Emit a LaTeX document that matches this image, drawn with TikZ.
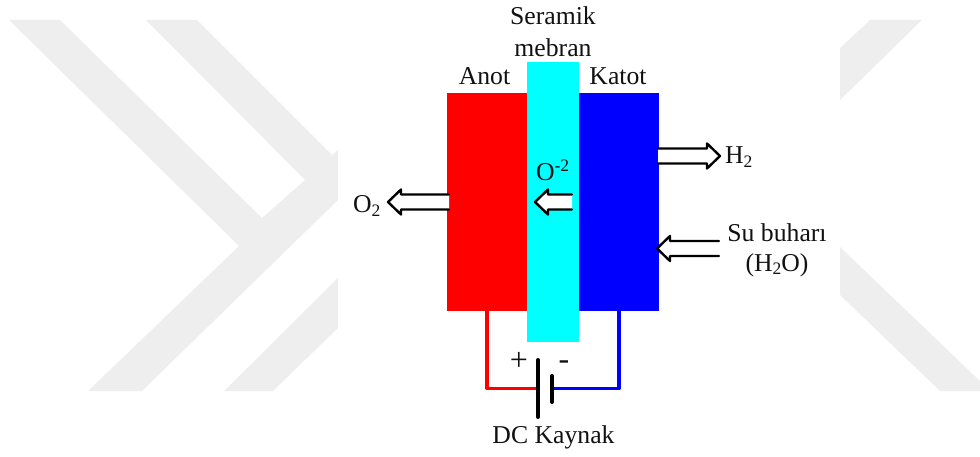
\documentclass[tikz,border=0pt]{standalone}
\usepackage{fontspec}
\setmainfont{Liberation Serif}
\usetikzlibrary{calc}
\definecolor{wm}{HTML}{EEEEEE}
\definecolor{ink}{HTML}{111111}
\definecolor{redplate}{HTML}{FF0000}
\definecolor{blueplate}{HTML}{0000FF}
\definecolor{cyanplate}{HTML}{00FFFF}
\newcommand{\lowtwo}{\raisebox{-3.5pt}{\fontsize{17.5}{17.5}\selectfont 2}}
% hollow arrow between two named coordinates; #3 = +1 points right, -1 points left
\newcommand{\holarrow}[3]{%
  \draw[hollow] ($(#1)+(0,-7.5)$) -- ($(#2)+({-13*#3},-7.5)$) -- ($(#2)+({-13*#3},-12.5)$)
    -- (#2) -- ($(#2)+({-13*#3},12.5)$) -- ($(#2)+({-13*#3},7.5)$) -- ($(#1)+(0,7.5)$);}
\tikzset{
  plate/.style={draw=none,inner sep=0pt,outer sep=0pt},
  lbl/.style={inner sep=0pt,outer sep=0pt,text=ink,font=\fontsize{25.7}{30}\selectfont},
  bigsign/.style={inner sep=0pt,outer sep=0pt,text=ink,font=\fontsize{32}{32}\selectfont},
  hollow/.style={line width=2.4pt,draw=black,fill=white,line join=round,line cap=round},
  wire/.style={line width=3.8pt,line join=round},
  batt/.style={line width=4pt,draw=black,line cap=round},
}
\begin{document}
\begin{tikzpicture}[x=1pt,y=-1pt]
\useasboundingbox (0,0) rectangle (980,457);
% watermark
\fill[wm] (9,20) -- (60,20) -- (262,218) -- (305,180) -- (146,20) -- (197,20) -- (332,155) -- (338,150)
  -- (338,200) -- (142,391) -- (88,391) -- (239,246) -- cycle;
\fill[wm] (338,278) -- (224,391) -- (273,391) -- (338,328) -- cycle;
\fill[wm] (870,20) -- (922,20) -- (840,100) -- (840,48) -- cycle;
\fill[wm] (840,247) -- (980,381) -- (980,391) -- (940,391) -- (840,295) -- cycle;
% cell
\node[plate,fill=redplate,minimum width=80pt,minimum height=218pt] (anot) at (487,202) {};
\node[plate,fill=blueplate,minimum width=80pt,minimum height=218pt] (katot) at (619,202) {};
\node[plate,fill=cyanplate,minimum width=52pt,minimum height=280pt] (mebran) at (553,202) {};
% battery
\coordinate (pluspole) at (538,388.5);
\coordinate (minuspole) at (552,388.5);
\coordinate (longtop) at (538,360);
\coordinate (longbot) at (538,417);
\coordinate (shorttop) at (552,376);
\coordinate (shortbot) at (552,402);
\draw[wire,redplate] (anot.south) |- (pluspole);
\draw[wire,blueplate] (katot.south) |- (minuspole);
\draw[batt] (longtop) -- (longbot);
\draw[batt] (shorttop) -- (shortbot);
% arrows
\coordinate (o2tail) at (449,202);  \coordinate (o2tip) at (388,202);
\coordinate (iontail) at (572,202); \coordinate (iontip) at (535,202);
\coordinate (h2tail) at (658,156);  \coordinate (h2tip) at (720,156);
\coordinate (sutail) at (719,248.5);  \coordinate (sutip) at (657,248.5);
\holarrow{o2tail}{o2tip}{-1}
\holarrow{iontail}{iontip}{-1}
\holarrow{h2tail}{h2tip}{1}
\holarrow{sutail}{sutip}{-1}
% labels
\node[lbl,anchor=base] (ser) at (553,25) {Seramik};
\node[lbl,anchor=base] (meb) at (553,57) {mebran};
\node[lbl,anchor=base] (an) at (484.5,85) {Anot};
\node[lbl,anchor=base] (ka) at (618,85) {Katot};
\node[lbl,anchor=base west] (h2) at (725,164) {H\lowtwo};
\node[lbl,anchor=base] (su) at (777,241) {Su buharı};
\node[lbl,anchor=base] (h2o) at (777,271) {(H\lowtwo O)};
\node[lbl,anchor=base west] (o2) at (353,213) {O\lowtwo};
\node[lbl,anchor=base west] (ion) at (536,181) {O\raisebox{9pt}{\fontsize{17.5}{17.5}\selectfont -2}};
\node[bigsign,anchor=base] (plus) at (519,370) {+};
\node[bigsign,anchor=base] (minus) at (564,369) {-};
\node[lbl,anchor=base] (dc) at (553.5,443) {DC Kaynak};
\end{tikzpicture}
\end{document}
